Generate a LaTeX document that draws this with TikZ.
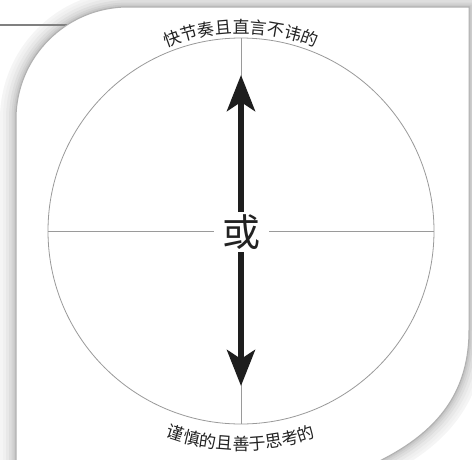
\documentclass[tikz,border=0pt]{standalone}
\usepackage{fontspec}
\newfontfamily\cjk{Noto Sans CJK SC}
\usetikzlibrary{arrows.meta,decorations.text}
\definecolor{rimgray}{HTML}{B0B0B0}
\definecolor{axisgray}{HTML}{9A9A9A}
\definecolor{rulegray}{HTML}{808080}
\definecolor{arrowblack}{HTML}{1E1E1E}
\definecolor{labelblack}{HTML}{222222}
\newcommand{\rimlabelfont}{\cjk\fontsize{17}{17}\selectfont}

\begin{document}
\begin{tikzpicture}[x=1pt,y=-1pt]
\tikzset{rim/.style = {draw=rimgray, line width=1pt}}
\tikzset{axis/.style = {draw=axisgray, line width=0.8pt}}
\tikzset{bigarrow/.style = {-{Stealth[length=36pt,width=28pt,inset=9pt]}, line width=6pt, draw=arrowblack}}
\tikzset{ortext/.style = {fill=white, inner sep=0pt, minimum width=55pt, minimum height=40pt, text=labelblack, font=\cjk\fontsize{38}{38}\selectfont}}
\tikzset{rimlabel/.style = {decorate, decoration={text along path, text align=center, text color=labelblack, text={|\rimlabelfont|#1}}}}

\useasboundingbox (0,0) rectangle (472,459);
\clip (0,0) rectangle (472,459);

%card
\path[save path=\cardpath] (16,470) -- (16,119) arc[start angle=180, end angle=270, radius=112]
  -- (469,7) -- (469,330) .. controls (469,400) and (430,440) .. (360,470) -- cycle;
\foreach \w/\c in {32/4,26/6,20/9,14/13,9/17,5/21,2/25}
  \path[use path=\cardpath, draw=black!\c, line width=\w pt];
\draw[rulegray, line width=1.2pt] (0,25) -- (130,25);
\fill[white, use path=\cardpath];
\path[rim, use path=\cardpath];

%circle and axes
\coordinate (ctr) at (241,231);
\coordinate (n) at (241,38);
\coordinate (s) at (241,424);
\coordinate (w) at (48,231);
\coordinate (e) at (434,231);
\draw[axis] (ctr) circle[radius=193];
\draw[axis] (n) -- (s);
\draw[axis] (w) -- (e);

%centre and arrows
\node[ortext] (huo) at (241,232) {或};
\coordinate (uptip) at (241,75);
\coordinate (downtip) at (241,386);
\draw[bigarrow] (huo.north) -- (uptip);
\draw[bigarrow] (huo.south) -- (downtip);

%labels
\path[rimlabel={快节奏且直言不讳的}] ([shift={(240:198)}]ctr) arc[start angle=240, end angle=300, radius=198];
\path[rimlabel={谨慎的且善于思考的}] ([shift={(120:219)}]ctr) arc[start angle=120, end angle=60, radius=219];
\end{tikzpicture}
\end{document}
